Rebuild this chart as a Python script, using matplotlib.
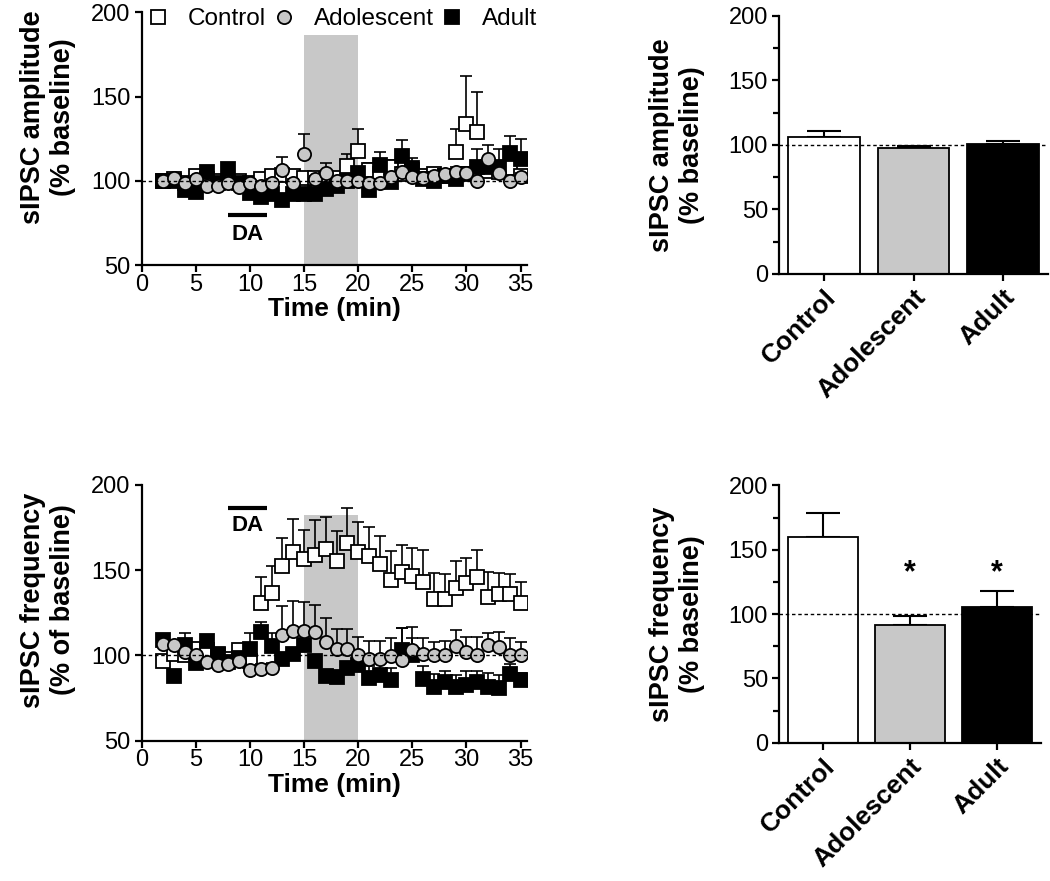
import numpy as np
import matplotlib.pyplot as plt
from matplotlib.ticker import MultipleLocator

plt.rcParams['font.family'] = ['Liberation Sans', 'DejaVu Sans']

# time bins (min)
time_min = list(range(2, 36))

# sIPSC amplitude (% baseline), mean and upper SEM
amp_control = [100, 101, 99, 103, 101, 100, 100, 100, 99, 101,
               103, 103.5, 103, 102, 102, 101, 102, 109, 117.5, 106.5,
               104, 108.5, 104, 106.5, 103, 104, 103, 117.4, 134, 129,
               106, 105, 107.7, 103]
amp_control_err = [2, 2, 2, 3, 2, 2, 2, 2, 2, 2,
                   3, 3, 3, 3, 3, 2, 3, 7, 13.5, 4,
                   3, 4, 3, 4, 2, 3, 2, 13.6, 28.5, 23.5,
                   3, 3, 3, 3]
amp_adol = [100, 102, 99, 101, 97, 97, 99, 96.6, 99, 97,
            99, 106.5, 99, 116, 101, 104.7, 100, 100, 100, 99,
            99, 102.6, 105.5, 102.6, 101.8, 103, 104, 105.5, 104.5, 100,
            113, 104.5, 100, 102.6]
amp_adol_err = [2, 2, 2, 2, 2, 2, 2, 2, 2, 2,
                2, 7.5, 2, 12, 2, 6, 2, 2, 2, 2,
                2, 2, 3, 2, 2, 2, 2, 3, 3, 2,
                8.4, 3, 2, 2]
amp_adult = [100, 100, 94.6, 93.3, 105.5, 99, 107, 99, 93, 90.6,
             92, 88.7, 92, 92, 92, 95, 97, 100, 104.7, 94.6,
             109.5, 99.6, 115, 107.5, 101, 100, 103, 101, 104, 108.5,
             108.5, 108.5, 116.5, 113]
amp_adult_err = [2, 2, 2, 2, 2, 2, 2, 2, 2, 2,
                 2, 2, 2, 2, 2, 2, 2, 3, 3, 3,
                 7.5, 3, 9, 6, 3, 3, 3, 3, 4, 10.5,
                 4, 10.5, 10.3, 11.8]

# sIPSC frequency (% of baseline)
freq_control = [96.7, 101, 100, 104, 103, 100, 98, 103, 96.7, 130.5,
                136.7, 152.3, 160.7, 156.4, 159, 162.3, 155, 165.6, 160.3, 158.4,
                153.3, 144.1, 148.6, 146.7, 142.8, 133, 133, 139.2, 142.2, 146,
                134.4, 136, 136, 130.5]
freq_control_err = [3, 3, 3, 3, 3, 3, 3, 3, 3, 15.5,
                    15.5, 16.3, 19, 17, 20.5, 19, 18, 20.4, 18, 16.5,
                    16.7, 16.8, 16, 16, 19, 15.4, 14.5, 15.8, 15, 15.7,
                    14.6, 12.4, 11.5, 12.3]
freq_adol = [107, 106, 102, 100, 96.3, 94.3, 95, 97, 91.4, 92,
             92.8, 111.7, 114.5, 114.2, 113.7, 108, 104, 104, 100, 97.8,
             98, 99.6, 97.2, 103, 101, 100, 100, 105.5, 101.9, 100,
             106, 105, 100, 100]
freq_adol_err = [2, 2, 3, 2, 2, 2, 2, 2, 3, 3,
                 3, 17.5, 17.3, 16.8, 16, 14, 11.7, 11.7, 11, 10.6,
                 10.4, 10.4, 18.6, 13.8, 9, 8, 8.4, 9.3, 8.9, 11,
                 7, 8.6, 10, 8]
freq_adult = [109, 88, 106, 95.7, 108.4, 101, 96.3, 98.6, 104, 113.5,
              105.5, 97.7, 101, 106, 96.7, 88, 87.5, 92.8, 94.3, 87,
              88.5, 85.5, 103, 100, 86.5, 81.7, 84.6, 81.7, 83, 84.6,
              81.7, 80.8, 88.9, 85.5]
freq_adult_err = [2, 2, 7, 2, 3.6, 2, 2, 2, 9, 5.8,
                  7.5, 2, 2, 2, 2, 2, 2, 3, 5.7, 7,
                  7.5, 7.3, 12.8, 10, 7.5, 7.3, 6.4, 6.8, 8, 6.4,
                  8.3, 7.7, 6.1, 4.5]

# summary bars
groups = ['Control', 'Adolescent', 'Adult']
amp_bar = [106, 97.4, 100.8]
amp_bar_err = [5, 2.1, 2.5]
freq_bar = [159.8, 91.8, 105.5]
freq_bar_err = [18.6, 6.5, 12.5]

GRAY = '#c8c8c8'

fig = plt.figure(figsize=(10.5, 8.81), dpi=100)
ax1 = fig.add_axes([0.135, 0.699, 0.367, 0.287])
ax2 = fig.add_axes([0.742, 0.689, 0.256, 0.293])
ax3 = fig.add_axes([0.135, 0.159, 0.367, 0.291])
ax4 = fig.add_axes([0.742, 0.157, 0.249, 0.292])


def style_axes(ax):
    for s in ['top', 'right']:
        ax.spines[s].set_visible(False)
    for s in ['left', 'bottom']:
        ax.spines[s].set_linewidth(1.6)
    ax.tick_params(width=1.6, length=5, labelsize=17, pad=3)
    ax.tick_params(which='minor', width=1.6, length=4)


def time_course(ax, series, da_y, da_text_y):
    ax.axvspan(15, 20, ymin=0, ymax=da_y[2], color=GRAY, lw=0, zorder=0)
    handles = []
    for (mean, err, mk, fc, z) in series:
        ax.errorbar(time_min, mean, yerr=[np.zeros(len(err)), err], fmt='none',
                    ecolor='black', elinewidth=1.2, capsize=4.5, capthick=1.2, zorder=z)
        h, = ax.plot(time_min, mean, ls='none', marker=mk, ms=9.5, mfc=fc,
                     mec='black', mew=1.3, zorder=z + 0.5)
        handles.append(h)
    ax.axhline(100, color='black', ls=(0, (2.5, 2)), lw=1, zorder=10)
    ax.plot([8, 11.6], [da_y[0], da_y[0]], color='black', lw=3, solid_capstyle='butt')
    ax.text(9.8, da_text_y, 'DA', ha='center', va='center', fontsize=16, fontweight='bold')
    ax.set_xlim(0, 35.6)
    ax.set_ylim(50, 200)
    ax.set_xticks(range(0, 36, 5))
    ax.set_yticks([50, 100, 150, 200])
    ax.set_xlabel('Time (min)', fontsize=19, fontweight='bold', labelpad=1)
    style_axes(ax)
    ax.tick_params(axis='x', pad=1)
    return handles


amp_series = [(amp_control, amp_control_err, 's', 'white', 3),
              (amp_adult, amp_adult_err, 's', 'black', 4),
              (amp_adol, amp_adol_err, 'o', GRAY, 5)]
h = time_course(ax1, amp_series, (80, 0, 0.91), 68)
ax1.set_ylabel('sIPSC amplitude\n(% baseline)', fontsize=19.5, fontweight='bold')
ax1.yaxis.set_label_coords(-0.17, 0.585)
ax1.legend([h[0], h[2], h[1]], ['Control', 'Adolescent', 'Adult'], ncol=3,
           loc='center left', bbox_to_anchor=(0.016, 0.972), frameon=False,
           fontsize=17.5, handlelength=0.8, handletextpad=0.85, columnspacing=0.33,
           borderpad=0, borderaxespad=0)

freq_series = [(freq_control, freq_control_err, 's', 'white', 3),
               (freq_adult, freq_adult_err, 's', 'black', 4),
               (freq_adol, freq_adol_err, 'o', GRAY, 5)]
time_course(ax3, freq_series, (186.5, 0, 0.88), 176)
ax3.set_ylabel('sIPSC frequency\n(% of baseline)', fontsize=19.5, fontweight='bold')
ax3.yaxis.set_label_coords(-0.17, 0.55)


def bar_panel(ax, means, errs, ylabel):
    x = np.arange(len(groups))
    ax.bar(x, means, width=0.8, color=['white', GRAY, 'black'], edgecolor='black',
           linewidth=1.3, zorder=2)
    ax.errorbar(x, means, yerr=[np.zeros(len(errs)), errs], fmt='none', ecolor='black',
                elinewidth=1.5, capsize=12, capthick=1.5, zorder=1)
    ax.axhline(100, color='black', ls=(0, (2.5, 2)), lw=1, zorder=3)
    ax.set_xlim(-0.5, 2.5)
    ax.set_ylim(0, 200)
    ax.set_yticks(range(0, 201, 50))
    ax.yaxis.set_minor_locator(MultipleLocator(25))
    ax.set_xticks(x)
    ax.set_xticklabels(groups, rotation=45, ha='right', rotation_mode='anchor',
                       fontweight='bold')
    ax.set_ylabel(ylabel, fontsize=19.5, fontweight='bold', labelpad=17)
    style_axes(ax)
    ax.tick_params(axis='x', labelsize=19)


bar_panel(ax2, amp_bar, amp_bar_err, 'sIPSC amplitude\n(% baseline)')
bar_panel(ax4, freq_bar, freq_bar_err, 'sIPSC frequency\n(% baseline)')
for i in [1, 2]:
    ax4.text(i, 132, '*', ha='center', va='center', fontsize=22, fontweight='bold')

fig.savefig('out.png', dpi=100)
